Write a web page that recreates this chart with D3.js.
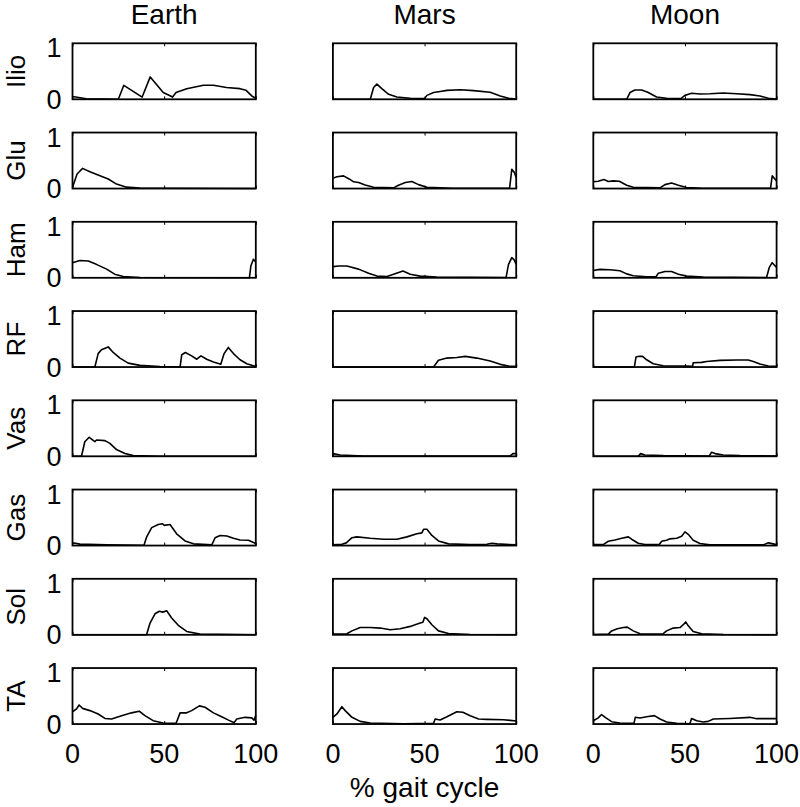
<!DOCTYPE html>
<html>
<head>
<meta charset="utf-8">
<script src="https://cdn.jsdelivr.net/npm/d3@7"></script>
<style>
  html, body { margin: 0; padding: 0; background: #fff; }
  text { font-family: "Liberation Sans", Arial, Helvetica, sans-serif; fill: #000; }
</style>
</head>
<body>
<svg id="chart" width="800" height="807"></svg>
<script>
// ---------- data ----------
const conditions = ["Earth", "Mars", "Moon"];
const muscles = ["Ilio", "Glu", "Ham", "RF", "Vas", "Gas", "Sol", "TA"];
const xTicks = [0, 50, 100];
const yTicks = [0, 1];
const xLabel = "% gait cycle";

// Earth
const earthIlio = [[0,.05],[7.6,.01],[25,0],[28,.25],[38,.04],[42.4,.4],[49.5,.12],[54.6,.04],[56.5,.12],[62.3,.19],[71.4,.25],[76.9,.25],[84,.21],[91.4,.19],[94.7,.16],[97.8,.06],[100,.02]];
const earthGlu = [[0,.02],[2.5,.26],[5.5,.36],[9.5,.3],[15,.23],[19.5,.17],[24,.08],[29.5,.025],[36.8,.01],[51,.005],[100,0]];
const earthHam = [[0,.27],[4,.31],[8.6,.3],[13,.24],[18.6,.155],[23,.065],[27.7,.024],[36.8,.006],[96.5,0],[97.3,.21],[98.7,.33],[100,.28]];
const earthRF = [[0,0],[12.2,0],[14,.24],[15.8,.31],[19.5,.36],[22.2,.26],[25.9,.16],[30.4,.07],[36.8,.03],[47.7,.01],[58.7,.005],[59.6,.22],[61.6,.26],[65,.2],[67.8,.14],[70.1,.2],[73.2,.14],[76.9,.09],[80.9,.05],[82.7,.24],[85,.35],[87.8,.24],[91.4,.13],[95.1,.06],[100,.01]];
const earthVas = [[0,0],[4.9,0],[6.7,.26],[9.1,.34],[12.2,.26],[13.1,.29],[17.7,.28],[20.4,.23],[24,.12],[28.6,.05],[33.2,.012],[47.7,0],[100,0]];
const earthGas = [[0,.05],[4,.025],[18.6,.012],[39,.006],[40.4,.15],[43.2,.32],[46.8,.375],[49,.39],[50.1,.36],[53.2,.375],[56.8,.21],[61.4,.083],[66,.03],[76,.012],[77.8,.14],[80.5,.18],[84.2,.17],[87.8,.13],[91.4,.1],[96,.095],[100,.035]];
const earthSol = [[0,0],[40.4,0],[42.3,.21],[45,.375],[47.4,.42],[49.2,.405],[51.4,.43],[54.1,.3],[57.7,.17],[62.3,.06],[69.6,.012],[100,0]];
const earthTA = [[0,.22],[2.2,.27],[3.6,.34],[5.5,.28],[9.5,.24],[14,.18],[17.7,.1],[21.3,.09],[26.8,.15],[32.2,.2],[36.4,.23],[39.5,.15],[44,.06],[49.5,.018],[56.5,.012],[58.7,.2],[62.3,.2],[65,.24],[69.2,.325],[72.3,.3],[76.9,.2],[81.4,.13],[85.1,.07],[88.2,.025],[89.6,.09],[94.2,.12],[97.8,.11],[99,.07],[100,.15]];

// Mars
const marsIlio = [[0,0],[20.4,0],[22.2,.21],[24,.27],[26.7,.19],[30.4,.09],[34.9,.04],[42.2,.018],[50,.012],[51.3,.07],[54.9,.12],[58.5,.14],[62.2,.16],[69.5,.17],[76.7,.155],[85.8,.125],[91.3,.06],[95.8,.018],[100,.006]];
const marsGlu = [[0,.185],[2.2,.21],[5.8,.226],[9.1,.167],[11.3,.12],[14,.107],[17.6,.065],[22.2,.024],[33.1,.012],[35.8,.06],[39.5,.107],[43.1,.125],[46.7,.07],[51.3,.024],[65.8,.006],[96.4,.006],[97.6,.345],[98.9,.29],[100,.2]];
const marsHam = [[0,.2],[3.1,.21],[7.6,.21],[14,.155],[19.5,.083],[24,.03],[29.5,.024],[33.1,.065],[38.2,.12],[42.2,.065],[47.6,.03],[56.7,.012],[94.5,.006],[95.8,.24],[97.6,.36],[98.9,.32],[100,.24]];
const marsRF = [[0,0],[54.9,0],[57.6,.12],[62.2,.16],[67.6,.17],[72.2,.19],[78.5,.16],[85.8,.107],[91.3,.048],[95.8,.018],[100,.012]];
const marsVas = [[0,.048],[4,.024],[16.7,.006],[96.7,.006],[98.2,.048],[100,.048]];
const marsGas = [[0,.012],[4.9,.024],[7.3,.048],[10.4,.14],[13.1,.155],[20.4,.13],[27.6,.113],[34.9,.113],[40.4,.155],[45.8,.21],[48.5,.226],[49.5,.29],[51.3,.29],[54,.18],[57.6,.083],[63.1,.03],[74.9,.018],[84,.024],[86.7,.042],[89.5,.03],[100,.012]];
const marsSol = [[0,.012],[7.6,.018],[10.4,.07],[14.9,.13],[20.4,.13],[25.8,.12],[31.3,.09],[36.7,.107],[42.2,.15],[47.6,.21],[49.1,.226],[50,.31],[51.3,.286],[54,.18],[57.6,.07],[63.1,.024],[74.9,.006],[100,0]];
const marsTA = [[0,.12],[2.2,.18],[4.9,.31],[6.7,.24],[10.4,.12],[14.9,.048],[20.4,.018],[38.5,.006],[54.9,.012],[55.8,.09],[58.5,.072],[62.2,.13],[67.6,.22],[70.9,.21],[74.9,.15],[79.5,.09],[84,.084],[93.1,.078],[96.7,.066],[100,.054]];

// Moon
const moonIlio = [[0,0],[18.2,0],[20,.12],[22.7,.167],[26.4,.167],[30,.12],[34.5,.042],[40,.018],[47.8,.012],[50,.07],[53.6,.107],[58.2,.095],[63.6,.1],[70.9,.113],[78.2,.1],[85.5,.083],[90.9,.06],[95.5,.018],[100,.006]];
const moonGlu = [[0,.12],[2.7,.13],[5.8,.16],[8.2,.125],[10.9,.137],[14.2,.13],[18.2,.06],[21.8,.024],[36.4,.012],[39.1,.07],[42.7,.1],[46.4,.06],[50.9,.018],[60,.006],[96.7,.006],[97.6,.226],[98.7,.185],[100,.137]];
const moonHam = [[0,.13],[3.6,.15],[9.1,.143],[14.5,.125],[18.2,.07],[21.8,.036],[29.1,.018],[34.2,.018],[35.5,.083],[39.1,.113],[42.7,.113],[46.4,.065],[50.9,.03],[60,.012],[94.5,.006],[96,.185],[97.6,.27],[100,.185]];
const moonRF = [[0,0],[22.4,0],[23.3,.18],[24.5,.19],[26.9,.19],[29.1,.13],[32.7,.06],[38.2,.024],[50.9,.018],[54.2,.012],[54.5,.077],[59.1,.083],[61.8,.1],[69.1,.12],[78.2,.125],[84.5,.125],[87.3,.1],[90.9,.054],[95.5,.018],[100,.012]];
const moonVas = [[0,0],[24.5,0],[25.8,.048],[28.2,.024],[38.2,.012],[63.3,.006],[64.5,.072],[66.4,.048],[70.9,.024],[80,.012],[100,.006]];
const moonGas = [[0,.018],[5.8,.024],[8.2,.077],[11.8,.1],[15.5,.13],[19.1,.155],[20.9,.113],[24.5,.042],[28.2,.018],[36,.018],[37.3,.077],[40,.095],[41.8,.12],[45.5,.13],[48.2,.167],[50,.244],[51.8,.2],[54.5,.095],[58.2,.036],[63.6,.012],[92.7,.012],[95.5,.048],[98.2,.03],[100,.012]];
const moonSol = [[0,.006],[8.2,.012],[10,.07],[13.1,.107],[16.4,.13],[18.5,.137],[21.8,.07],[25.5,.018],[37.8,.012],[40,.07],[43.6,.12],[47.3,.13],[49.1,.18],[50.4,.23],[51.8,.16],[54.5,.06],[59.1,.018],[70.9,.006],[100,0]];
const moonTA = [[0,.06],[2.7,.11],[4.5,.17],[6.9,.11],[10,.042],[14.5,.018],[22.2,.012],[22.9,.12],[25.5,.108],[29.1,.13],[33.3,.15],[36.4,.09],[40,.036],[45.5,.012],[52.7,.006],[53.6,.1],[56.4,.06],[60,.036],[62.7,.048],[65.5,.09],[74.5,.1],[85.5,.12],[89.1,.096],[92.7,.096],[100,.096]];

const seriesByCondition = [
  [earthIlio, earthGlu, earthHam, earthRF, earthVas, earthGas, earthSol, earthTA],
  [marsIlio, marsGlu, marsHam, marsRF, marsVas, marsGas, marsSol, marsTA],
  [moonIlio, moonGlu, moonHam, moonRF, moonVas, moonGas, moonSol, moonTA]
];

// ---------- layout ----------
const left0 = 72.5, colStep = 260.4, top0 = 43.3, rowStep = 89.25;
const W = 183.3, H = 56;
const FS = 27;

const svg = d3.select("#chart");
const x = d3.scaleLinear().domain([0, 100]).range([0, W]);
const y = d3.scaleLinear().domain([0, 1]).range([H, 0]);
const line = d3.line().x(d => x(d[0])).y(d => y(d[1]));

conditions.forEach((cond, ci) => {
  const gx = left0 + ci * colStep;
  // column title
  svg.append("text")
    .attr("x", gx + W / 2).attr("y", 24)
    .attr("text-anchor", "middle")
    .style("font-size", "28px")
    .text(cond);

  muscles.forEach((m, ri) => {
    const gy = top0 + ri * rowStep;
    const g = svg.append("g").attr("transform", `translate(${gx},${gy})`);

    // data line
    g.append("path")
      .datum(seriesByCondition[ci][ri])
      .attr("d", line)
      .attr("fill", "none")
      .attr("stroke", "#000")
      .attr("stroke-width", 1.6)
      .attr("stroke-linejoin", "round");

    // inward ticks top/bottom
    const bottomAxis = d3.axisBottom(x).tickValues(xTicks).tickSizeInner(-3).tickSizeOuter(0).tickFormat("");
    const topAxis = d3.axisTop(x).tickValues(xTicks).tickSizeInner(-3).tickSizeOuter(0).tickFormat("");
    const ba = g.append("g").attr("transform", `translate(0,${H})`).call(bottomAxis);
    const ta = g.append("g").call(topAxis);
    [ba, ta].forEach(a => { a.select(".domain").remove(); a.selectAll("line").attr("stroke", "#000").attr("stroke-width", 1); });

    // frame
    g.append("rect")
      .attr("x", 0).attr("y", 0).attr("width", W).attr("height", H)
      .attr("fill", "none").attr("stroke", "#000").attr("stroke-width", 1.8);

    if (ci === 0) {
      // y tick labels
      yTicks.forEach(v => {
        g.append("text")
          .attr("x", -11)
          .attr("y", v === 0 ? y(v) + 9.5 : y(v) + 14)
          .attr("text-anchor", "end")
          .style("font-size", FS + "px")
          .text(v);
      });
      // row label
      g.append("text")
        .attr("transform", `translate(${-left0 + 25},${H / 2}) rotate(-90)`)
        .attr("text-anchor", "middle")
        .style("font-size", "26px")
        .text(m);
    }

    if (ri === muscles.length - 1) {
      xTicks.forEach(v => {
        g.append("text")
          .attr("x", x(v)).attr("y", H + 39)
          .attr("text-anchor", "middle")
          .style("font-size", FS + "px")
          .text(v);
      });
      if (ci === 1) {
        g.append("text")
          .attr("x", W / 2).attr("y", H + 73)
          .attr("text-anchor", "middle")
          .style("font-size", "28px")
          .text(xLabel);
      }
    }
  });
});
</script>
</body>
</html>
